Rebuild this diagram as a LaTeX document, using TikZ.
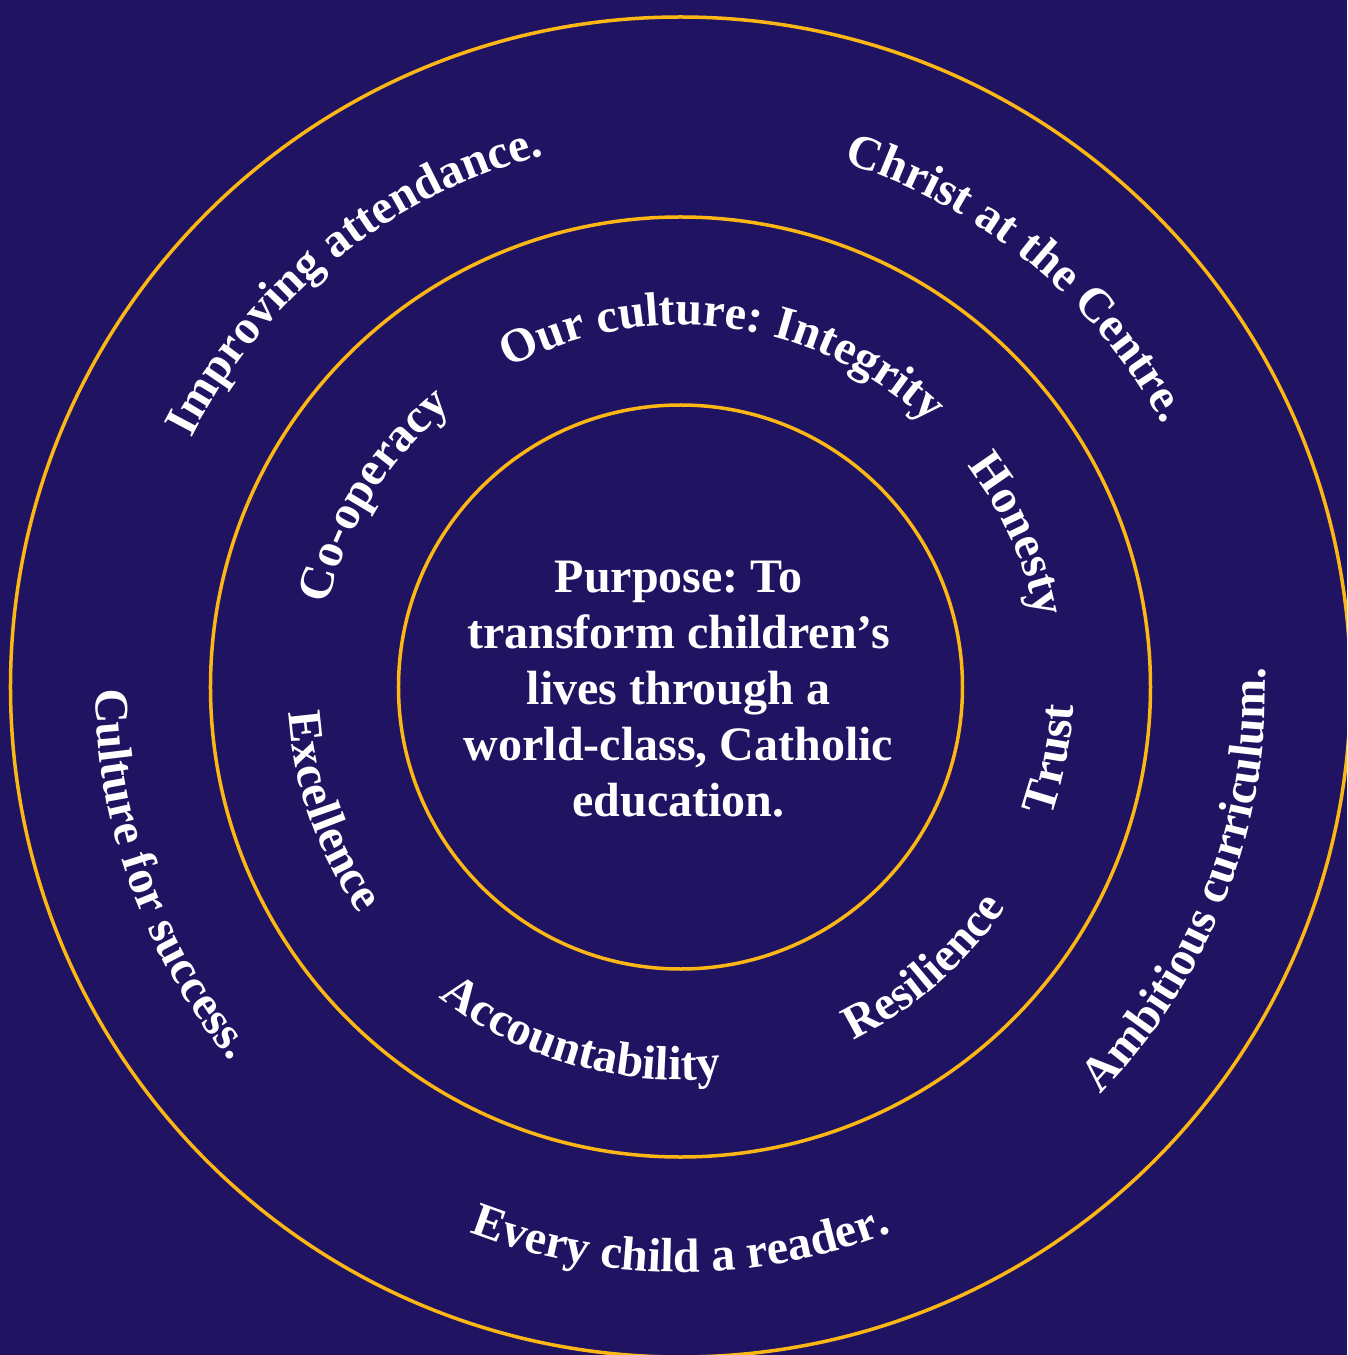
\documentclass[tikz,border=0pt]{standalone}
\usepackage{fontspec}
\setmainfont{Liberation Serif}
\usetikzlibrary{decorations.text}
\definecolor{navy}{HTML}{201462}
\definecolor{gold}{HTML}{FCB714}
\frenchspacing
\newcommand\ringfont{\bfseries\fontsize{48}{56}\selectfont}
\tikzset{
  ring/.style={circle, draw=gold, line width=3.5pt, minimum size=#1, inner sep=0pt, outer sep=0pt},
  arclabel/.style={decorate, decoration={text along path, text align=center,
      text color=white, text={|\ringfont|#1}}},
  purposetext/.style={align=center, text=white, font=\ringfont, inner sep=0pt}
}
\begin{document}
\begin{tikzpicture}[x=1pt,y=1pt]
  % page and background
  \useasboundingbox (-680.5,-668) rectangle (666.5,687);
  \fill[navy] (-680.5,-668) rectangle (666.5,687);
  \clip (-680.5,-668) rectangle (666.5,687);

  % the three rings
  \node[ring=1340pt] (outer) at (0,0) {};
  \node[ring=940pt]  (middle) at (0,0) {};
  \node[ring=564pt]  (inner) at (0,0) {};

  % centre statement
  \node[purposetext] (purpose) at (-2,-2.5)
    {Purpose: To\\transform children’s\\lives through a\\world-class, Catholic\\education.};

  % outer band: priorities
  \path[arclabel={Improving attendance.}] (178.7:549pt) arc[start angle=178.7, end angle=78.7, radius=549pt];
  \path[arclabel={Christ at the Centre.}] (100.6:549pt) arc[start angle=100.6, end angle=0.6, radius=549pt];
  \path[arclabel={Ambitious curriculum.}] (-71.1:585pt) arc[start angle=-71.1, end angle=28.9, radius=585pt];
  \path[arclabel={Every child a reader.}] (-140:585pt) arc[start angle=-140, end angle=-40, radius=585pt];
  \path[arclabel={Culture for success.}] (150:585pt) arc[start angle=150, end angle=250, radius=585pt];

  % inner band: culture values
  \path[arclabel={Our culture: Integrity}] (142.5:362pt) arc[start angle=142.5, end angle=22.5, radius=362pt];
  \path[arclabel={Honesty}] (74.3:362pt) arc[start angle=74.3, end angle=-25.7, radius=362pt];
  \path[arclabel={Trust}] (-61:393pt) arc[start angle=-61, end angle=39, radius=393pt];
  \path[arclabel={Resilience}] (-99:393pt) arc[start angle=-99, end angle=1, radius=393pt];
  \path[arclabel={Accountability}] (-156:393pt) arc[start angle=-156, end angle=-56, radius=393pt];
  \path[arclabel={Excellence}] (149.5:393pt) arc[start angle=149.5, end angle=249.5, radius=393pt];
  \path[arclabel={Co-operacy}] (198:362pt) arc[start angle=198, end angle=98, radius=362pt];
\end{tikzpicture}
\end{document}
